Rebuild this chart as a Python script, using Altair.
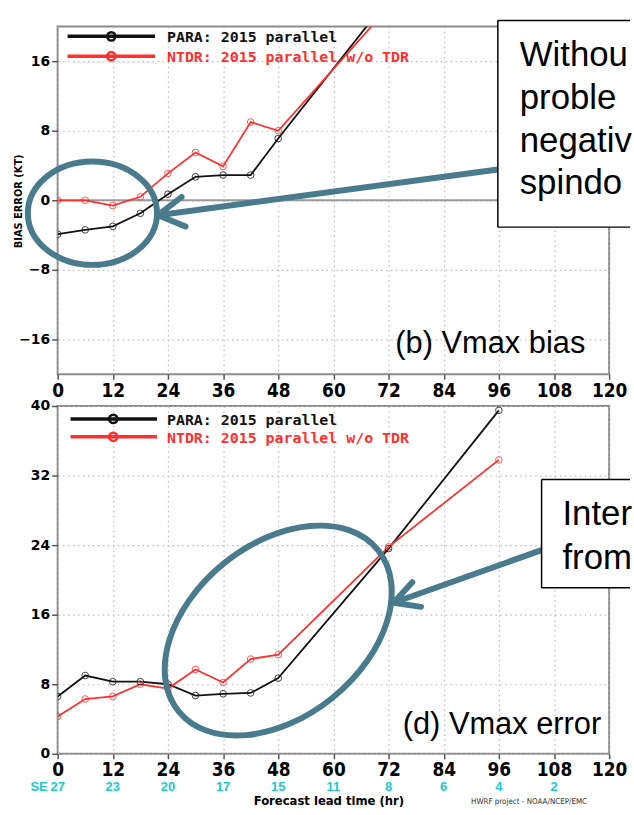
import math
import altair as alt
import pandas as pd

# ---------------- data ----------------
bias_hours = [0, 6, 12, 18, 24, 30, 36, 42, 48, 72]
bias_para = [-3.9, -3.4, -3.0, -1.5, 0.7, 2.7, 2.9, 2.9, 7.1, 23.2]
bias_ntdr = [0.0, 0.0, -0.6, 0.4, 3.1, 5.5, 3.9, 9.0, 8.0, 22.2]

err_hours = [0, 6, 12, 18, 24, 30, 36, 42, 48, 72, 96]
err_para = [6.6, 9.0, 8.3, 8.3, 8.0, 6.7, 6.9, 7.0, 8.7, 23.6, 39.5]
err_ntdr = [4.3, 6.3, 6.6, 8.0, 7.5, 9.7, 8.2, 10.9, 11.4, 23.8, 33.8]

series = ["PARA", "NTDR"]
legend_labels = ["PARA: 2015 parallel", "NTDR: 2015 parallel w/o TDR"]
x_ticks = [0, 12, 24, 36, 48, 60, 72, 84, 96, 108, 120]
bias_ticks = [-16, -8, 0, 8, 16]
err_ticks = [0, 8, 16, 24, 32, 40]
case_hours = [0, 12, 24, 36, 48, 60, 72, 84, 96, 108]
case_counts = [27, 23, 20, 17, 15, 11, 8, 6, 4, 2]

panel_titles = ["(b) Vmax bias", "(d) Vmax error"]
box_top_text = ["Without", "problem", "negative", "spindown"]
box_bottom_text = ["Interesting", "from"]

# ---------------- styles ----------------
W, H = 555, 350
RIGHT = 576  # right edge of the page, relative to the plot's left edge
BLACK = "#111111"
RED = "#ff3030"
ANN = "#4a7b8c"
CYAN = "#1ec8c8"
XFONT = "Liberation Sans Narrow, DejaVu Sans Condensed, Liberation Sans"
MONO = "DejaVu Sans Mono"
ARIAL = "Liberation Sans"
ZW = "\u200b"  # zero-width "ellipsis": text is simply cut at the page edge
ONE = pd.DataFrame({"k": [0]})
cscale = alt.Scale(domain=series, range=[BLACK, RED])


def long_df(hours, a, b):
    rows = []
    for name, vals in zip(series, [a, b]):
        for h, v in zip(hours, vals):
            rows.append({"hour": h, "value": v, "series": name})
    return pd.DataFrame(rows)


def data_layers(df, ydom, yticks):
    xenc = alt.X("hour:Q", scale=alt.Scale(domain=[0, 120], nice=False, zero=False),
                 axis=alt.Axis(values=x_ticks, format="d", title=None))
    yenc = alt.Y("value:Q", scale=alt.Scale(domain=ydom, nice=False, zero=False),
                 axis=alt.Axis(values=yticks, format="d", title=None))
    base = alt.Chart(df).encode(
        x=xenc, y=yenc,
        color=alt.Color("series:N", scale=cscale, legend=None),
    )
    lines = base.mark_line(clip=True, strokeWidth=1.8)
    pts = base.mark_point(clip=True, filled=False, size=45, strokeWidth=1, opacity=0.8)
    return lines, pts


def legend_layers(rows_y, x0, x1, xm, xt):
    out = []
    for i, col in enumerate([BLACK, RED]):
        d = pd.DataFrame({"label": [legend_labels[i]]})
        out.append(alt.Chart(d).mark_rule(color=col, strokeWidth=3.5).encode(
            x=alt.value(x0), x2=alt.value(x1), y=alt.value(rows_y[i])))
        out.append(alt.Chart(d).mark_point(shape="circle", filled=False, size=70,
                                           strokeWidth=2.5, color=col, opacity=1).encode(
            x=alt.value(xm), y=alt.value(rows_y[i])))
        out.append(alt.Chart(d).mark_text(align="left", baseline="middle", font=MONO,
                                          fontSize=15, fontWeight="bold", color=col).encode(
            x=alt.value(xt), y=alt.value(rows_y[i] + 1), text="label:N"))
    return out


def arrow(tip, tail, spread, length):
    tx, ty = tip
    sx, sy = tail
    th = math.atan2(sy - ty, sx - tx)
    segs = [(tx, ty, sx, sy)]
    for s in (-spread, spread):
        a = th + math.radians(s)
        segs.append((tx, ty, tx + length * math.cos(a), ty + length * math.sin(a)))
    return [alt.Chart(ONE).mark_rule(color=ANN, strokeWidth=6, strokeCap="round").encode(
        x=alt.value(a), y=alt.value(b), x2=alt.value(c), y2=alt.value(d)) for (a, b, c, d) in segs]


def ellipse(cx, cy, a, ratio, angle):
    path = f"M-1,0A1,{ratio},0,1,1,1,0A1,{ratio},0,1,1,-1,0Z"
    return alt.Chart(ONE).mark_point(shape=path, filled=False, size=(2 * a) ** 2, strokeWidth=6,
                                     color=ANN, opacity=1, angle=angle).encode(
        x=alt.value(cx), y=alt.value(cy))


def box(x1, y1, y2):
    # white box running off the right edge of the page (no right border visible)
    fill = alt.Chart(ONE).mark_rect(fill="white", strokeWidth=0).encode(
        x=alt.value(x1), x2=alt.value(RIGHT), y=alt.value(y1), y2=alt.value(y2))
    edges = [
        alt.Chart(ONE).mark_rule(color="black", strokeWidth=1.5).encode(
            x=alt.value(x1), x2=alt.value(RIGHT), y=alt.value(y1)),
        alt.Chart(ONE).mark_rule(color="black", strokeWidth=1.5).encode(
            x=alt.value(x1), x2=alt.value(RIGHT), y=alt.value(y2)),
        alt.Chart(ONE).mark_rule(color="black", strokeWidth=1.5).encode(
            x=alt.value(x1), y=alt.value(y1), y2=alt.value(y2)),
    ]
    return [fill] + edges


def big_text(lines, x, y, size=35, lh=43):
    return alt.Chart(ONE).mark_text(align="left", baseline="alphabetic", font=ARIAL,
                                    fontSize=size, lineHeight=lh, color="black",
                                    limit=RIGHT - x + 3, ellipsis=ZW).encode(
        x=alt.value(x), y=alt.value(y), text=alt.value(lines))


# ---------------- top panel: bias ----------------
bias_df = long_df(bias_hours, bias_para, bias_ntdr)
l1, p1 = data_layers(bias_df, [-20, 20], bias_ticks)
zero = alt.Chart(pd.DataFrame({"value": [0]})).mark_rule(color="#9a9a9a", strokeWidth=2).encode(y="value:Q")
anchor = alt.Chart(ONE).mark_rule(strokeOpacity=0, strokeWidth=0.01).encode(
    x=alt.value(-57), x2=alt.value(-57), y=alt.value(-23), y2=alt.value(-22))
ytitle = alt.Chart(ONE).mark_text(angle=270, font=XFONT, fontSize=11, fontWeight="bold",
                                  align="center", baseline="middle", color="black").encode(
    x=alt.value(-39), y=alt.value(176), text=alt.value("BIAS ERROR (KT)"))
lab1 = alt.Chart(ONE).mark_text(align="right", baseline="alphabetic", font=ARIAL, fontSize=31,
                                color="black").encode(
    x=alt.value(531), y=alt.value(329), text=alt.value(panel_titles[0]))

top = alt.layer(
    anchor, zero, l1, p1,
    *legend_layers([10, 30], 10, 98, 54, 110),
    lab1, ytitle,
    ellipse(35, 188, 65, 0.8, 0),
    *arrow((101, 190), (443, 144), 30, 30),
    *box(443, -6, 202),
    big_text(box_top_text, 465, 40),
).properties(width=W, height=H)

# ---------------- bottom panel: error ----------------
err_df = long_df(err_hours, err_para, err_ntdr)
l2, p2 = data_layers(err_df, [0, 40], err_ticks)
case_df = pd.DataFrame({"hour": case_hours, "n": case_counts})
cases = alt.Chart(case_df).mark_text(font=ARIAL, fontSize=13, fontWeight="bold", color=CYAN,
                                     baseline="middle").encode(
    x=alt.X("hour:Q"), y=alt.value(383), text="n:Q")
case_lab = alt.Chart(ONE).mark_text(font=ARIAL, fontSize=13, fontWeight="bold", color=CYAN,
                                    baseline="middle", align="right").encode(
    x=alt.value(-10), y=alt.value(383), text=alt.value("SE"))
xtitle = alt.Chart(ONE).mark_text(font=XFONT, fontSize=13, fontWeight="bold", color="black",
                                  baseline="middle", align="center").encode(
    x=alt.value(273), y=alt.value(398), text=alt.value("Forecast lead time (hr)"))
credit = alt.Chart(ONE).mark_text(font=XFONT, fontSize=8, color="#333333",
                                  baseline="middle", align="left", limit=RIGHT - 416,
                                  ellipsis=ZW).encode(
    x=alt.value(416), y=alt.value(399), text=alt.value("HWRF project - NOAA/NCEP/EMC"))
lab2 = alt.Chart(ONE).mark_text(align="right", baseline="alphabetic", font=ARIAL, fontSize=31,
                                color="black").encode(
    x=alt.value(547), y=alt.value(330), text=alt.value(panel_titles[1]))

bottom = alt.layer(
    l2, p2,
    *legend_layers([13, 31], 13, 100, 56, 110),
    lab2, cases, case_lab, xtitle, credit,
    ellipse(222, 226, 129, 0.674, 321),
    *arrow((338, 198), (487, 145), 28, 28),
    *box(487, 74, 183),
    big_text(box_bottom_text, 508, 120, 35, 44),
).properties(width=W, height=H)

chart = alt.vconcat(top, bottom, spacing=32, bounds="flush").properties(padding=0).configure_view(
    stroke="#8c8c8c", strokeWidth=2
).configure_axis(
    grid=True, gridColor="#bdbdbd", gridDash=[1.5, 3.5], gridWidth=1.2, domain=False,
    tickColor="#555555", tickWidth=1.5, labelColor="black", labelOverlap=False
).configure_axisX(
    labelFont=XFONT, labelFontSize=19, labelFontWeight="bold", tickSize=5, labelPadding=2,
    labelFlush=False
).configure_axisY(
    labelFont="DejaVu Sans", labelFontSize=14, labelFontWeight="bold", tickSize=6, labelPadding=2
)

chart.save("out.html", embed_options={"renderer": "svg", "actions": False})
